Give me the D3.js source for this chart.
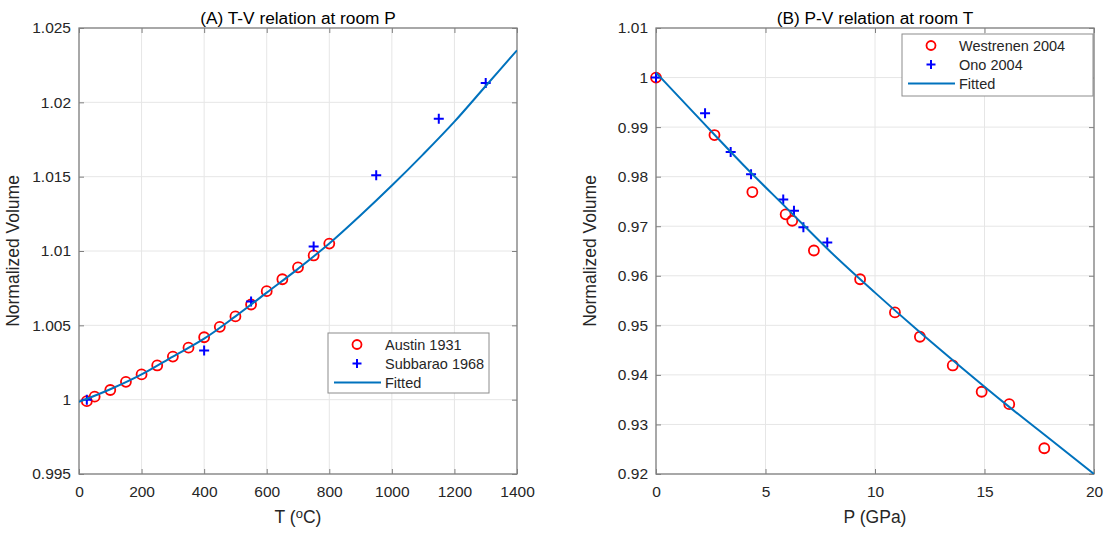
<!DOCTYPE html>
<html>
<head>
<meta charset="utf-8">
<script src="https://cdn.jsdelivr.net/npm/d3@7"></script>
<style>
  body { margin: 0; background: #fff; }
  svg { display: block; font-family: "Liberation Sans", Arial, sans-serif; }
</style>
</head>
<body>
<script>
// (A) T-V data
const austinT = [25, 50, 100, 150, 200, 250, 300, 350, 400, 450, 500, 550, 600, 650, 700, 750, 800];
const austinV = [0.9999, 1.0002, 1.00065, 1.0012, 1.0017, 1.0023, 1.0029, 1.0035, 1.0042, 1.0049, 1.0056, 1.0064, 1.0073, 1.0081, 1.0089, 1.0097, 1.0105];
const subbaraoT = [25, 400, 550, 750, 950, 1150, 1300];
const subbaraoV = [1.0000, 1.0033, 1.0066, 1.0103, 1.0151, 1.0189, 1.0213];
const fitT = [0, 100, 200, 300, 400, 500, 600, 700, 800, 900, 1000, 1100, 1200, 1300, 1400];
const fitTV = [0.99985, 1.0007, 1.0017, 1.0029, 1.0041, 1.0056, 1.0072, 1.0088, 1.0105, 1.0124, 1.0144, 1.0165, 1.0187, 1.0211, 1.0235];
const tTicks = [0, 200, 400, 600, 800, 1000, 1200, 1400];
const tvTicks = [0.995, 1, 1.005, 1.01, 1.015, 1.02, 1.025];

// (B) P-V data
const westrenenP = [0, 2.67, 4.40, 5.92, 6.22, 7.21, 9.32, 10.91, 12.05, 13.55, 14.87, 16.13, 17.73];
const westrenenV = [1.0000, 0.9884, 0.9769, 0.9724, 0.9711, 0.9651, 0.9593, 0.9526, 0.9477, 0.9419, 0.9366, 0.9341, 0.9252];
const onoP = [0, 2.24, 3.41, 4.34, 5.81, 6.30, 6.73, 7.82];
const onoV = [1.0000, 0.9928, 0.9850, 0.9805, 0.9754, 0.9731, 0.9698, 0.9667];
const fitP = [0, 2, 4, 6, 8, 10, 12, 14, 16, 18, 20];
const fitPV = [1.0010, 0.9916, 0.9823, 0.9735, 0.9647, 0.9566, 0.9488, 0.9413, 0.9340, 0.9270, 0.9200];
const pTicks = [0, 5, 10, 15, 20];
const pvTicks = [0.92, 0.93, 0.94, 0.95, 0.96, 0.97, 0.98, 0.99, 1, 1.01];

const W = 1110, H = 534;
const axisColor = "#808080";
const textColor = "#262626";
const fitColor = "#0072BD";

let svg = d3.select("body").append("svg")
  .attr("width", W)
  .attr("height", H);

function fmt(d) {
  return String(+d.toFixed(3));
}

// draws box, grid, ticks, labels; returns scales
function drawAxes(box, xDomain, yDomain, xTicks, yTicks, title, xLabel) {
  let g = svg.append("g");
  let x = d3.scaleLinear().domain(xDomain).range([box.left, box.right]);
  let y = d3.scaleLinear().domain(yDomain).range([box.bottom, box.top]);

  // grid
  g.selectAll(".gx").data(xTicks).enter().append("line")
    .attr("x1", d => x(d)).attr("x2", d => x(d))
    .attr("y1", box.top).attr("y2", box.bottom)
    .attr("stroke", "#e6e6e6").attr("stroke-width", 1);
  g.selectAll(".gy").data(yTicks).enter().append("line")
    .attr("x1", box.left).attr("x2", box.right)
    .attr("y1", d => y(d)).attr("y2", d => y(d))
    .attr("stroke", "#e6e6e6").attr("stroke-width", 1);

  // axes with inward ticks on all four sides
  let tl = 5;
  g.append("g").attr("transform", "translate(0," + box.bottom + ")")
    .call(d3.axisBottom(x).tickValues(xTicks).tickFormat(fmt).tickSizeInner(-tl).tickSizeOuter(0).tickPadding(12));
  g.append("g").attr("transform", "translate(0," + box.top + ")")
    .call(d3.axisTop(x).tickValues(xTicks).tickFormat("").tickSizeInner(-tl).tickSizeOuter(0));
  g.append("g").attr("transform", "translate(" + box.left + ",0)")
    .call(d3.axisLeft(y).tickValues(yTicks).tickFormat(fmt).tickSizeInner(-tl).tickSizeOuter(0).tickPadding(8));
  g.append("g").attr("transform", "translate(" + box.right + ",0)")
    .call(d3.axisRight(y).tickValues(yTicks).tickFormat("").tickSizeInner(-tl).tickSizeOuter(0));
  g.selectAll(".domain").remove();
  g.selectAll(".tick line").attr("stroke", axisColor);
  g.selectAll(".tick text").attr("fill", textColor).style("font-size", "15.5px");

  g.append("rect")
    .attr("x", box.left).attr("y", box.top)
    .attr("width", box.right - box.left).attr("height", box.bottom - box.top)
    .attr("fill", "none").attr("stroke", axisColor).attr("stroke-width", 1.3);

  let cx = (box.left + box.right) / 2;
  svg.append("text")
    .attr("x", cx).attr("y", box.top - 4)
    .attr("text-anchor", "middle")
    .style("font-size", "17.3px").attr("fill", "#000")
    .text(title);

  let xl = svg.append("text")
    .attr("x", cx).attr("y", 523)
    .attr("text-anchor", "middle")
    .style("font-size", "17.5px").attr("fill", textColor);
  xLabel(xl);

  svg.append("text")
    .attr("transform", "translate(" + (box.left - 60) + "," + ((box.top + box.bottom) / 2) + ")rotate(-90)")
    .attr("text-anchor", "middle")
    .style("font-size", "17.5px").attr("fill", textColor)
    .text("Normalized Volume");

  let clipId = "clip" + Math.round(box.left);
  svg.append("clipPath").attr("id", clipId).append("rect")
    .attr("x", box.left).attr("y", box.top)
    .attr("width", box.right - box.left).attr("height", box.bottom - box.top);

  return { x: x, y: y, clip: "url(#" + clipId + ")" };
}

function drawCircles(sc, xs, ys) {
  svg.append("g").selectAll("circle")
    .data(xs).enter().append("circle")
    .attr("cx", (d) => sc.x(d))
    .attr("cy", (d, i) => sc.y(ys[i]))
    .attr("r", 5)
    .attr("fill", "none")
    .attr("stroke", "#ff0000")
    .attr("stroke-width", 1.8);
}

function plusPath(cx, cy, s) {
  return "M" + (cx - s) + "," + cy + "H" + (cx + s) + "M" + cx + "," + (cy - s) + "V" + (cy + s);
}

function drawPluses(sc, xs, ys) {
  svg.append("g").selectAll("path")
    .data(xs).enter().append("path")
    .attr("d", (d, i) => plusPath(sc.x(d), sc.y(ys[i]), 5))
    .attr("stroke", "#0000ff")
    .attr("stroke-width", 2)
    .attr("fill", "none");
}

function drawFit(sc, xs, ys) {
  let pts = xs.map((d, i) => [d, ys[i]]);
  let line = d3.line()
    .x((d) => sc.x(d[0]))
    .y((d) => sc.y(d[1]))
    .curve(d3.curveMonotoneX);
  svg.append("path")
    .datum(pts)
    .attr("clip-path", sc.clip)
    .attr("d", line)
    .attr("fill", "none")
    .attr("stroke", fitColor)
    .attr("stroke-width", 2);
}

function drawLegend(lb, names) {
  let g = svg.append("g");
  g.append("rect")
    .attr("x", lb.x).attr("y", lb.y).attr("width", lb.w).attr("height", lb.h)
    .attr("fill", "#fff").attr("stroke", "#8c8c8c").attr("stroke-width", 1);
  let rowY = [lb.y + 11.5, lb.y + 30.5, lb.y + 49.5];
  g.append("circle")
    .attr("cx", lb.mx).attr("cy", rowY[0]).attr("r", 4.5)
    .attr("fill", "none").attr("stroke", "#ff0000").attr("stroke-width", 1.8);
  g.append("path")
    .attr("d", plusPath(lb.mx, rowY[1], 4.5))
    .attr("stroke", "#0000ff").attr("stroke-width", 2);
  g.append("line")
    .attr("x1", lb.x + 6).attr("x2", lb.tx - 4)
    .attr("y1", rowY[2]).attr("y2", rowY[2])
    .attr("stroke", fitColor).attr("stroke-width", 2);
  g.selectAll("text").data(names).enter().append("text")
    .attr("x", lb.tx)
    .attr("y", (d, i) => rowY[i] + 5)
    .style("font-size", "14.5px")
    .attr("fill", textColor)
    .text((d) => d);
}

// panel A
let scA = drawAxes({ left: 79, right: 517, top: 28, bottom: 474 },
  [0, 1400], [0.995, 1.025], tTicks, tvTicks,
  "(A) T-V relation at room P",
  (t) => {
    t.append("tspan").text("T (");
    t.append("tspan").attr("baseline-shift", "35%").style("font-size", "13px").text("o");
    t.append("tspan").text("C)");
  });
drawCircles(scA, austinT, austinV);
drawPluses(scA, subbaraoT, subbaraoV);
drawFit(scA, fitT, fitTV);
drawLegend({ x: 328, y: 333, w: 161, h: 60, mx: 357, tx: 385 },
  ["Austin 1931", "Subbarao 1968", "Fitted"]);

// panel B
let scB = drawAxes({ left: 656, right: 1094, top: 28, bottom: 474 },
  [0, 20], [0.92, 1.01], pTicks, pvTicks,
  "(B) P-V relation at room T",
  (t) => t.text("P (GPa)"));
drawCircles(scB, westrenenP, westrenenV);
drawPluses(scB, onoP, onoV);
drawFit(scB, fitP, fitPV);
drawLegend({ x: 902, y: 34, w: 191, h: 62, mx: 931, tx: 959 },
  ["Westrenen 2004", "Ono 2004", "Fitted"]);
</script>
</body>
</html>
